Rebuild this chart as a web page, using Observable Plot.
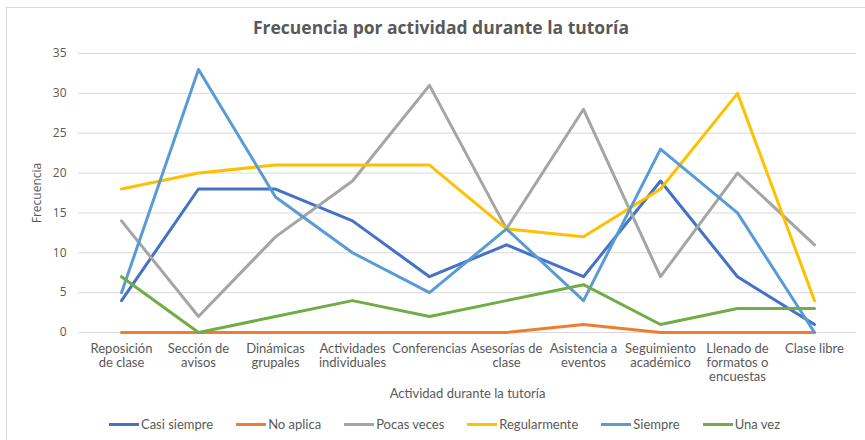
<!DOCTYPE html>
<html>
<head>
<meta charset="utf-8">
<script src="https://cdn.jsdelivr.net/npm/d3@7"></script>
<script src="https://cdn.jsdelivr.net/npm/@observablehq/plot@0.6"></script>
<style>
  html, body { margin: 0; padding: 0; background: #fff; }
  #wrap { position: relative; width: 865px; height: 440px; overflow: hidden; }
  #frame { position: absolute; left: 6px; top: 7px; width: 900px; height: 500px; border-left: 1px solid #d9d9d9; border-top: 1px solid #d9d9d9; box-sizing: border-box; }
  #title { position: absolute; left: 0; top: 15px; width: 882px; text-align: center; font-family: "Open Sans", sans-serif; font-weight: bold; font-size: 17.5px; color: #595959; }
  #chart { position: absolute; left: 0; top: 0; }
  #legend { position: absolute; left: 0; top: 416px; width: 865px; display: flex; justify-content: center; gap: 23px; font-family: Lato, sans-serif; font-size: 13px; color: #595959; padding-left: 24px; box-sizing: border-box; }
  .item { display: flex; align-items: center; }
  .sw { width: 30px; height: 3px; margin-right: 2px; }
</style>
</head>
<body>
<div id="wrap">
  <div id="frame"></div>
  <div id="chart"></div>
  <div id="title">Frecuencia por actividad durante la tutoría</div>
  <div id="legend"></div>
</div>
<script>
const categories = [
  "Reposición\nde clase",
  "Sección de\navisos",
  "Dinámicas\ngrupales",
  "Actividades\nindividuales",
  "Conferencias",
  "Asesorías de\nclase",
  "Asistencia a\neventos",
  "Seguimiento\nacadémico",
  "Llenado de\nformatos o\nencuestas",
  "Clase libre"
];
const seriesNames = ["Casi siempre", "No aplica", "Pocas veces", "Regularmente", "Siempre", "Una vez"];
const seriesColors = ["#4472C4", "#ED7D31", "#A5A5A5", "#FFC000", "#5B9BD5", "#70AD47"];
const casiSiempre  = [4, 18, 18, 14, 7, 11, 7, 19, 7, 1];
const noAplica     = [0, 0, 0, 0, 0, 0, 1, 0, 0, 0];
const pocasVeces   = [14, 2, 12, 19, 31, 13, 28, 7, 20, 11];
const regularmente = [18, 20, 21, 21, 21, 13, 12, 18, 30, 4];
const siempre      = [5, 33, 17, 10, 5, 13, 4, 23, 15, 0];
const unaVez       = [7, 0, 2, 4, 2, 4, 6, 1, 3, 3];
const yTicks = [0, 5, 10, 15, 20, 25, 30, 35];

const seriesValues = [casiSiempre, noAplica, pocasVeces, regularmente, siempre, unaVez];
const data = [];
seriesNames.forEach((s, i) => {
  categories.forEach((c, j) => data.push({ serie: s, cat: c, value: seriesValues[i][j] }));
});

const chart = Plot.plot({
  width: 865,
  height: 400,
  marginLeft: 78,
  marginRight: 9,
  marginTop: 53,
  marginBottom: 68,
  style: { fontFamily: "Lato, sans-serif", fontSize: "12px", color: "#595959", background: "transparent" },
  x: { type: "point", domain: categories, padding: 0.5, label: null },
  y: { domain: [0, 35], ticks: yTicks, label: null },
  color: { domain: seriesNames, range: seriesColors },
  marks: [
    Plot.gridY(yTicks, { stroke: "#d9d9d9", strokeOpacity: 1, strokeWidth: 1 }),
    Plot.axisY(yTicks, { tickSize: 0, tickPadding: 12, fontFamily: "Open Sans, sans-serif", fontSize: 12, fill: "#595959",
      label: "Frecuencia", labelAnchor: "center", labelArrow: "none", labelOffset: 46 }),
    Plot.axisX({ tickSize: 0, tickPadding: 10, fontSize: 13, fill: "#595959", lineHeight: 1.1,
      label: "Actividad durante la tutoría", labelAnchor: "center", labelArrow: "none", labelOffset: 65 }),
    Plot.lineY(data, { x: "cat", y: "value", z: "serie", stroke: "serie", strokeWidth: 3, strokeLinejoin: "round", strokeLinecap: "round" })
  ]
});
document.getElementById("chart").appendChild(chart);

const legend = document.getElementById("legend");
seriesNames.forEach((s, i) => {
  const it = document.createElement("div");
  it.className = "item";
  const sw = document.createElement("div");
  sw.className = "sw";
  sw.style.background = seriesColors[i];
  const t = document.createElement("span");
  t.textContent = s;
  it.appendChild(sw); it.appendChild(t);
  legend.appendChild(it);
});
</script>
</body>
</html>
